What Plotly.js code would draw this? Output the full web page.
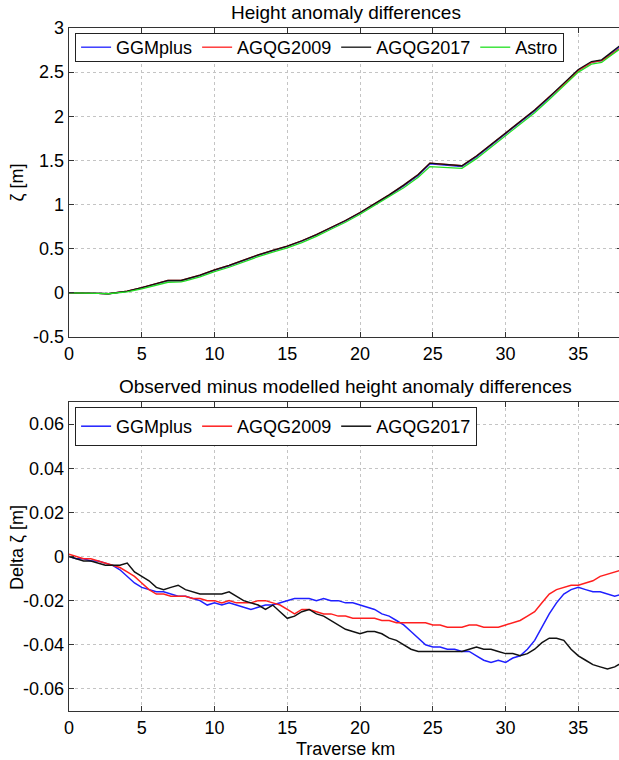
<!DOCTYPE html>
<html>
<head>
<meta charset="utf-8">
<script src="https://cdn.plot.ly/plotly-3.0.1.min.js"></script>
<style>
html,body{margin:0;padding:0;overflow:hidden;background:#fff;}
#chart{width:622px;height:760px;}
</style>
</head>
<body>
<div id="chart"></div>
<script>
// ---- Top panel: height anomaly differences ----
const topX = [0,1,2,2.7,3.5,4,5,6,6.8,7.7,8,9,10,11,12,13,14,15,16,17,18,19,20,21,22,23,24,24.8,27,28,29,30,31,32,33,34,35,35.9,36.6,37,38];
const topGGMplus = [0,0,-0.005,-0.01,0.003,0.017,0.055,0.095,0.135,0.135,0.15,0.195,0.255,0.305,0.365,0.425,0.475,0.525,0.585,0.655,0.735,0.815,0.905,1.0,1.1,1.21,1.33,1.46,1.43,1.54,1.67,1.8,1.94,2.06,2.21,2.36,2.52,2.61,2.63,2.68,2.81];
const topAGQG2009 = [0,0,-0.005,-0.01,0.005,0.02,0.06,0.1,0.14,0.14,0.155,0.2,0.26,0.31,0.37,0.43,0.48,0.53,0.59,0.66,0.74,0.82,0.91,1.01,1.11,1.22,1.34,1.47,1.44,1.55,1.68,1.81,1.95,2.07,2.22,2.36,2.52,2.61,2.63,2.67,2.79];
const topAGQG2017 = [0,0,-0.005,-0.01,0.005,0.02,0.06,0.1,0.14,0.14,0.155,0.2,0.26,0.31,0.37,0.43,0.48,0.53,0.59,0.66,0.74,0.82,0.91,1.01,1.11,1.22,1.34,1.47,1.44,1.55,1.68,1.81,1.95,2.07,2.22,2.37,2.53,2.62,2.64,2.69,2.82];
const topAstro = [0,0,-0.005,-0.01,0,0.01,0.045,0.085,0.12,0.125,0.135,0.18,0.24,0.29,0.35,0.41,0.46,0.51,0.57,0.64,0.72,0.8,0.89,0.99,1.09,1.19,1.31,1.43,1.41,1.52,1.65,1.78,1.92,2.04,2.19,2.34,2.5,2.59,2.61,2.66,2.78];

// ---- Bottom panel: observed minus modelled ----
const botX = [0,0.5,1,1.5,2,2.5,3,3.5,4,4.5,5,5.5,6,6.5,7,7.5,8,8.5,9,9.5,10,10.5,11,11.5,12,12.5,13,13.5,14,14.5,15,15.5,16,16.5,17,17.5,18,18.5,19,19.5,20,20.5,21,21.5,22,22.5,23,23.5,24,24.5,25,25.5,26,26.5,27,27.5,28,28.5,29,29.5,30,30.5,31,31.5,32,32.5,33,33.5,34,34.5,35,35.5,36,36.5,37,37.5,38];
const botGGMplus = [0,-0.001,-0.001,-0.002,-0.002,-0.003,-0.004,-0.006,-0.009,-0.012,-0.014,-0.015,-0.016,-0.016,-0.017,-0.018,-0.018,-0.019,-0.02,-0.022,-0.021,-0.022,-0.021,-0.022,-0.023,-0.024,-0.023,-0.022,-0.022,-0.021,-0.02,-0.019,-0.019,-0.019,-0.02,-0.019,-0.02,-0.02,-0.021,-0.021,-0.022,-0.023,-0.024,-0.026,-0.027,-0.029,-0.031,-0.034,-0.037,-0.04,-0.041,-0.041,-0.042,-0.042,-0.043,-0.043,-0.045,-0.047,-0.048,-0.047,-0.048,-0.046,-0.045,-0.042,-0.038,-0.032,-0.026,-0.021,-0.017,-0.015,-0.014,-0.015,-0.016,-0.016,-0.017,-0.018,-0.017];
const botAGQG2009 = [0.001,0,-0.001,-0.001,-0.002,-0.003,-0.004,-0.005,-0.007,-0.009,-0.012,-0.015,-0.017,-0.017,-0.018,-0.018,-0.018,-0.019,-0.019,-0.02,-0.02,-0.021,-0.02,-0.021,-0.021,-0.021,-0.02,-0.02,-0.021,-0.022,-0.024,-0.026,-0.024,-0.024,-0.025,-0.026,-0.026,-0.027,-0.027,-0.028,-0.028,-0.028,-0.028,-0.029,-0.029,-0.03,-0.03,-0.03,-0.03,-0.03,-0.031,-0.031,-0.032,-0.032,-0.032,-0.031,-0.031,-0.032,-0.032,-0.032,-0.031,-0.03,-0.029,-0.027,-0.025,-0.021,-0.017,-0.015,-0.014,-0.013,-0.013,-0.012,-0.011,-0.009,-0.008,-0.007,-0.006];
const botAGQG2017 = [0,-0.001,-0.002,-0.002,-0.003,-0.004,-0.004,-0.004,-0.003,-0.007,-0.009,-0.011,-0.014,-0.015,-0.014,-0.013,-0.015,-0.016,-0.017,-0.017,-0.017,-0.017,-0.016,-0.018,-0.02,-0.021,-0.022,-0.024,-0.022,-0.025,-0.028,-0.027,-0.025,-0.024,-0.026,-0.027,-0.029,-0.031,-0.033,-0.034,-0.035,-0.034,-0.034,-0.035,-0.037,-0.038,-0.04,-0.042,-0.043,-0.043,-0.043,-0.043,-0.043,-0.043,-0.043,-0.042,-0.041,-0.042,-0.042,-0.043,-0.044,-0.044,-0.045,-0.044,-0.042,-0.039,-0.037,-0.037,-0.038,-0.042,-0.045,-0.047,-0.049,-0.05,-0.051,-0.05,-0.048];

// ---- ticks ----
const xTicks = [0,5,10,15,20,25,30,35];
const xTickText = ['0','5','10','15','20','25','30','35'];
const topYTicks = [-0.5,0,0.5,1,1.5,2,2.5,3];
const topYTickText = ['-0.5','0','0.5','1','1.5','2','2.5','3'];
const botYTicks = [-0.06,-0.04,-0.02,0,0.02,0.04,0.06];
const botYTickText = ['-0.06','-0.04','-0.02','0','0.02','0.04','0.06'];

const FONT = 'Liberation Sans, Arial, sans-serif';
const C_BLUE = '#1f1fff', C_RED = '#ff1f1f', C_BLACK = '#111111', C_GREEN = '#22e022';

const traces = [
  {x: topX, y: topGGMplus, name: 'GGMplus', mode: 'lines', line: {color: C_BLUE, width: 1.3}, xaxis: 'x', yaxis: 'y', legend: 'legend'},
  {x: topX, y: topAGQG2009, name: 'AGQG2009', mode: 'lines', line: {color: C_RED, width: 1.3}, xaxis: 'x', yaxis: 'y', legend: 'legend'},
  {x: topX, y: topAGQG2017, name: 'AGQG2017', mode: 'lines', line: {color: C_BLACK, width: 1.3}, xaxis: 'x', yaxis: 'y', legend: 'legend'},
  {x: topX, y: topAstro, name: 'Astro', mode: 'lines', line: {color: C_GREEN, width: 1.3}, xaxis: 'x', yaxis: 'y', legend: 'legend'},
  {x: botX, y: botGGMplus, name: 'GGMplus', mode: 'lines', line: {color: C_BLUE, width: 1.5}, xaxis: 'x2', yaxis: 'y2', legend: 'legend2'},
  {x: botX, y: botAGQG2009, name: 'AGQG2009', mode: 'lines', line: {color: C_RED, width: 1.5}, xaxis: 'x2', yaxis: 'y2', legend: 'legend2'},
  {x: botX, y: botAGQG2017, name: 'AGQG2017', mode: 'lines', line: {color: C_BLACK, width: 1.5}, xaxis: 'x2', yaxis: 'y2', legend: 'legend2'}
];

const axisCommon = {
  showline: true, linecolor: '#333', linewidth: 1.3, mirror: 'ticks',
  ticks: 'inside', ticklen: 5, tickcolor: '#333', tickwidth: 1,
  showgrid: true, gridcolor: '#c4c4c4', griddash: 'dot', gridwidth: 1,
  zeroline: false, tickfont: {family: FONT, size: 18, color: '#000'},
  tickmode: 'array'
};

const legendCommon = {
  orientation: 'h', xanchor: 'left', yanchor: 'top', x: 0.011,
  bgcolor: '#fff', bordercolor: '#222', borderwidth: 1,
  font: {family: FONT, size: 18, color: '#000'},
  itemwidth: 30, tracegroupgap: 0
};

const layout = {
  width: 622, height: 760,
  margin: {l: 69, r: 0, t: 28, b: 49},
  paper_bgcolor: '#fff', plot_bgcolor: '#fff',
  font: {family: FONT, size: 18, color: '#000'},
  showlegend: true,
  xaxis: Object.assign({}, axisCommon, {domain: [0, 1], range: [0, 38], tickvals: xTicks, ticktext: xTickText, anchor: 'y'}),
  yaxis: Object.assign({}, axisCommon, {domain: [0.5476, 1], range: [-0.5, 3], tickvals: topYTicks, ticktext: topYTickText, anchor: 'x'}),
  xaxis2: Object.assign({}, axisCommon, {domain: [0, 1], range: [0, 38], tickvals: xTicks, ticktext: xTickText, anchor: 'y2'}),
  yaxis2: Object.assign({}, axisCommon, {domain: [0, 0.4524], range: [-0.07, 0.07], tickvals: botYTicks, ticktext: botYTickText, anchor: 'x2'}),
  legend: Object.assign({}, legendCommon, {y: 0.9927}),
  legend2: Object.assign({}, legendCommon, {y: 0.4451}),
  annotations: [
    {text: 'Height anomaly differences', xref: 'paper', yref: 'paper', x: 0.5, y: 1.0234, xanchor: 'center', yanchor: 'middle', showarrow: false, font: {family: FONT, size: 19, color: '#000'}},
    {text: 'Observed minus modelled height anomaly differences', xref: 'paper', yref: 'paper', x: 0.5, y: 0.4744, xanchor: 'center', yanchor: 'middle', showarrow: false, font: {family: FONT, size: 19, color: '#000'}},
    {text: 'ζ [m]', xref: 'paper', yref: 'paper', x: -0.094, y: 0.7738, xanchor: 'center', yanchor: 'middle', textangle: -90, showarrow: false, font: {family: FONT, size: 18, color: '#000'}},
    {text: 'Delta ζ [m]', xref: 'paper', yref: 'paper', x: -0.094, y: 0.2387, xanchor: 'center', yanchor: 'middle', textangle: -90, showarrow: false, font: {family: FONT, size: 18, color: '#000'}},
    {text: 'Traverse km', xref: 'paper', yref: 'paper', x: 0.5, y: -0.0556, xanchor: 'center', yanchor: 'middle', showarrow: false, font: {family: FONT, size: 18, color: '#000'}}
  ]
};

Plotly.newPlot('chart', traces, layout, {displayModeBar: false, staticPlot: true}).then(function () {
  // tighten the legend boxes to the reference's compact height
  document.querySelectorAll('g.legend').forEach(function (leg) {
    const bg = leg.querySelector('rect.bg');
    if (!bg) return;
    const h = parseFloat(bg.getAttribute('height'));
    const target = 28;
    if (h > target) {
      bg.setAttribute('height', target);
      const sb = leg.querySelector('g.scrollbox');
      if (sb) {
        const t = sb.getAttribute('transform') || '';
        sb.setAttribute('transform', t + ' translate(0,' + (-(h - target) / 2) + ')');
      }
      const cp = leg.querySelector('clipPath rect');
      if (cp) cp.setAttribute('height', target);
    }
  });
});
</script>
</body>
</html>
